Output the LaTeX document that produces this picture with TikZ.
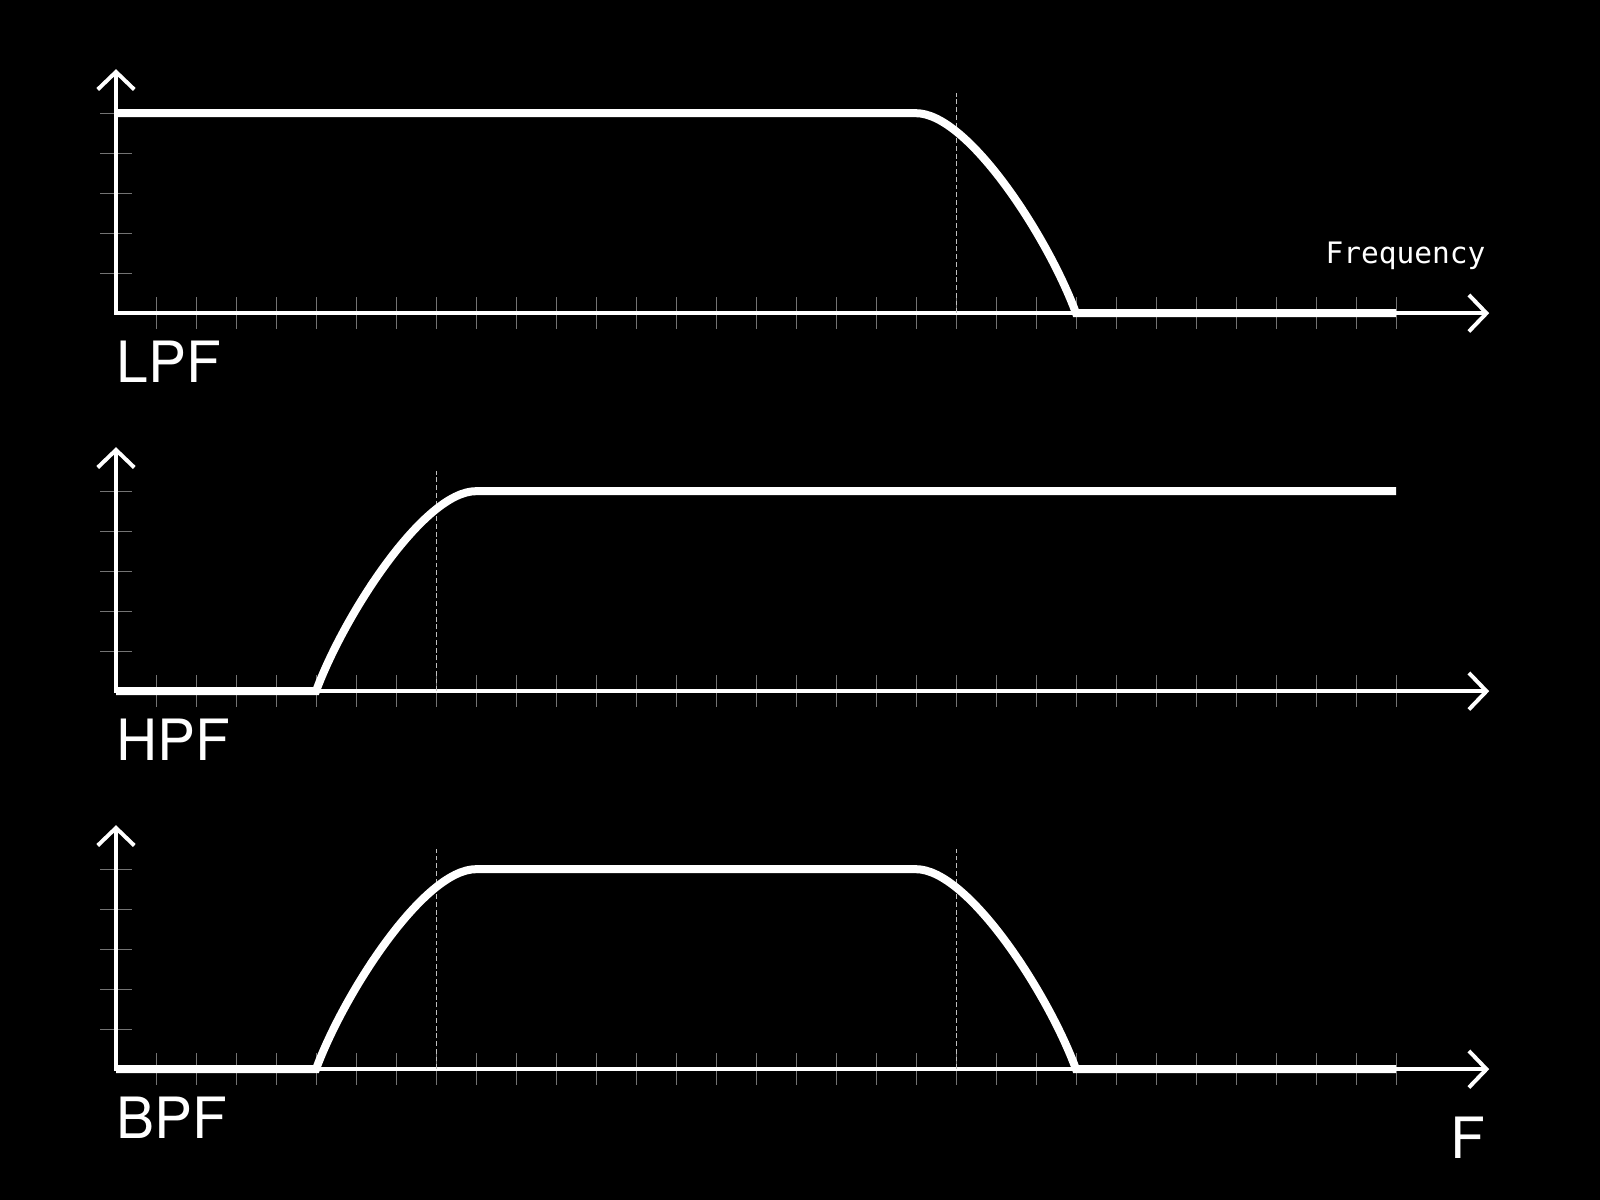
\documentclass[tikz,border=0pt]{standalone}
\usepackage{fontspec}
\setmainfont{TeX Gyre Heros}
\newfontfamily\monofont{DejaVu Sans Mono}
\usepackage{tikz}
\usetikzlibrary{arrows.meta}

\begin{document}
\begin{tikzpicture}[
		line width=0.7pt,
		every node/.style={text=white, inner sep=0pt},
		axis/.style={white, line width=2.8pt, line join=miter,
			{Straight Barb[length=12.5pt, width=26pt]}-{Straight Barb[length=12.5pt, width=26pt]}},
		minor tick/.style={white!45!black, line width=0.7pt},
		cutoff/.style={white!75!black, line width=0.7pt, dash pattern=on 3.5pt off 2pt},
		response/.style={white, line width=5.7pt, line join=miter},
		filter label/.style={anchor=base west, font=\fontsize{40.5}{48}\selectfont},
		axis label/.style={anchor=base east, font=\monofont\fontsize{21}{25}\selectfont}
		]

	% Background
	\fill[black] (0, 0) rectangle (40, 30);
	\useasboundingbox (0, 0) rectangle (40, 30);

	% Axes and ticks of the three panels
	\foreach \name/\y in {lpf/22.17, hpf/12.72, bpf/3.27}{
		\begin{scope}[shift={(2.9, \y)}]
			\foreach \x in {1, 2,...,32}{
				\draw[minor tick] (\x, -0.4) -- (\x, 0.4);
			}
			\foreach \t in {1, 2,...,5}{
				\draw[minor tick] (-0.4, \t) -- (0.4, \t);
			}
			\coordinate (\name top) at (0, 6.1);
			\coordinate (\name origin) at (0, 0);
			\coordinate (\name end) at (34.33, 0);
			\draw[axis] (\name top) -- (\name origin) -- (\name end);
		\end{scope}
	}

	% LPF
	\begin{scope}[shift={(2.9, 22.17)}]
		\draw[cutoff] (21, 0) -- (21, 5.5);
		\draw[response] (0, 5) -- (20, 5) .. controls (21.3, 5) and (23.3, 1.9) .. (24, 0) -- (32, 0);
		\node[filter label] (lpf label) at (0, -1.74) {LPF};
		\node[axis label] (freq label) at (34.25, 1.25) {Frequency};
	\end{scope}

	% HPF
	\begin{scope}[shift={(2.9, 12.72)}]
		\draw[cutoff] (8, 0) -- (8, 5.5);
		\draw[response] (0, 0) -- (5, 0) .. controls (5.7, 1.9) and (7.7, 5) .. (9, 5) -- (32, 5);
		\node[filter label] (hpf label) at (0, -1.74) {HPF};
	\end{scope}

	% BPF
	\begin{scope}[shift={(2.9, 3.27)}]
		\draw[cutoff] (8, 0) -- (8, 5.5);
		\draw[cutoff] (21, 0) -- (21, 5.5);
		\draw[response] (0, 0) -- (5, 0) .. controls (5.7, 1.9) and (7.7, 5) .. (9, 5)
			-- (20, 5) .. controls (21.3, 5) and (23.3, 1.9) .. (24, 0) -- (32, 0);
		\node[filter label] (bpf label) at (0, -1.74) {BPF};
		\node[filter label] (f label) at (33.36, -2.23) {F};
	\end{scope}

\end{tikzpicture}
\end{document}
